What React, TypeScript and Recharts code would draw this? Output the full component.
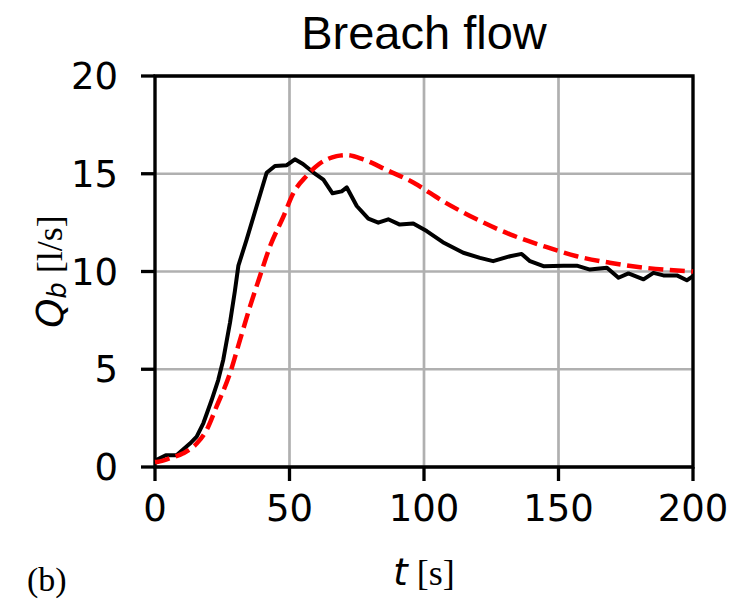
import { LineChart, Line, XAxis, YAxis, CartesianGrid, ReferenceArea, Label } from 'recharts'

// measured breach flow (black)
const tMeasured = [0, 1, 4, 8, 13, 15.5, 18, 21, 23.5, 25.4, 27.9, 29.7, 31, 34, 37.8, 41.5, 44.6, 49, 52, 55, 58.9, 62.6, 66, 69.4, 71.3, 75, 79.3, 83, 86.7, 91, 96, 101, 107, 114.6, 120.8, 125.7, 132, 136.3, 139.4, 144.4, 151.8, 156.8, 161.7, 168, 172.3, 176, 181.6, 185.3, 189, 194, 197.7, 200]
const qMeasured = [0.3, 0.4, 0.6, 0.6, 1.2, 1.55, 2.25, 3.4, 4.45, 5.5, 7.4, 9.0, 10.3, 11.6, 13.35, 15.05, 15.4, 15.44, 15.74, 15.5, 15.06, 14.7, 14.0, 14.1, 14.3, 13.35, 12.7, 12.5, 12.67, 12.4, 12.46, 12.07, 11.5, 10.96, 10.7, 10.53, 10.78, 10.9, 10.53, 10.27, 10.3, 10.3, 10.1, 10.19, 9.68, 9.9, 9.6, 9.93, 9.8, 9.8, 9.55, 9.76]

// model (red dashed)
const tModel = [0, 1.2, 5.6, 10.5, 15.5, 19.2, 22.9, 27.9, 31.6, 35.3, 39, 42.8, 47.7, 51.4, 56.4, 61, 67.5, 71.2, 77.4, 86, 96, 107, 119.6, 132, 144.4, 156.8, 169, 181.6, 200]
const qModel = [0.25, 0.27, 0.45, 0.7, 1.2, 1.9, 3.1, 4.8, 6.5, 8.2, 9.76, 11.3, 12.8, 14.0, 14.9, 15.5, 15.9, 15.96, 15.74, 15.2, 14.55, 13.6, 12.67, 11.9, 11.3, 10.78, 10.45, 10.2, 10.0]

const xTicks = [0, 50, 100, 150, 200]
const yTicks = [0, 5, 10, 15, 20]

const measuredData = tMeasured.map((t, i) => ({ t, q: qMeasured[i] }))
const modelData = tModel.map((t, i) => ({ t, q: qModel[i] }))

const tickFont = { fontFamily: 'DejaVu Sans', fontSize: 37, fill: '#000' }

function XTick(props: any) {
  const { x, y, payload } = props
  return (
    <text x={x} y={y} dy={40} textAnchor="middle" {...tickFont}>
      {payload.value}
    </text>
  )
}

function YTick(props: any) {
  const { x, y, payload } = props
  return (
    <text x={x} y={y} dy={13} textAnchor="end" {...tickFont}>
      {payload.value}
    </text>
  )
}

function YLabel(props: any) {
  const { viewBox } = props
  const cy = viewBox.y + viewBox.height / 2
  const cx = 50
  return (
    <text x={cx} y={cy} transform={`rotate(-90 ${cx} ${cy})`} textAnchor="middle" dominantBaseline="central">
      <tspan fontFamily="DejaVu Sans" fontStyle="italic" fontSize={37}>Q</tspan>
      <tspan fontFamily="DejaVu Sans" fontStyle="italic" fontSize={26} dy={7}>b</tspan>
      <tspan fontFamily="Liberation Serif" fontSize={36} dy={-7}> [l/s]</tspan>
    </text>
  )
}

function XLabel(props: any) {
  const { viewBox } = props
  const cx = viewBox.x + viewBox.width / 2
  return (
    <text x={cx} y={585} textAnchor="middle">
      <tspan fontFamily="DejaVu Sans" fontStyle="italic" fontSize={37}>t</tspan>
      <tspan fontFamily="Liberation Serif" fontSize={36}> [s]</tspan>
    </text>
  )
}

export default function App() {
  return (
    <div style={{ position: 'absolute', left: 0, top: 0, width: 748, height: 603, background: '#fff' }}>
      <div
        style={{
          position: 'absolute', left: 155, width: 538, top: 8, textAlign: 'center',
          fontFamily: 'Liberation Sans', fontSize: 47, lineHeight: '50px', color: '#000',
        }}
      >
        Breach flow
      </div>
      <div
        style={{
          position: 'absolute', left: 27, top: 562, fontFamily: 'Liberation Serif',
          fontSize: 34, lineHeight: '36px', color: '#000',
        }}
      >
        (b)
      </div>
      <LineChart width={748} height={603} margin={{ top: 76, right: 55, left: 0, bottom: 0 }}>
        <CartesianGrid stroke="#b0b0b0" strokeWidth={2.7} />
        <XAxis
          dataKey="t"
          type="number"
          domain={[0, 200]}
          ticks={xTicks}
          height={136}
          allowDuplicatedCategory={false}
          axisLine={false}
          tickSize={14}
          tickMargin={0}
          tickLine={{ stroke: '#000', strokeWidth: 3.3 }}
          tick={<XTick />}
        >
          <Label content={<XLabel />} />
        </XAxis>
        <YAxis
          type="number"
          domain={[0, 20]}
          ticks={yTicks}
          width={155}
          axisLine={false}
          tickSize={14}
          tickMargin={23}
          tickLine={{ stroke: '#000', strokeWidth: 3.3 }}
          tick={<YTick />}
        >
          <Label content={<YLabel />} />
        </YAxis>
        <Line
          data={measuredData}
          dataKey="q"
          type="linear"
          stroke="#000"
          strokeWidth={4}
          strokeLinejoin="round"
          dot={false}
          isAnimationActive={false}
        />
        <Line
          data={modelData}
          dataKey="q"
          type="monotone"
          stroke="#ff0000"
          strokeWidth={4.5}
          strokeDasharray="15 6.5"
          dot={false}
          isAnimationActive={false}
        />
        <ReferenceArea x1={0} x2={200} y1={0} y2={20} fill="none" stroke="#000" strokeWidth={3.3} ifOverflow="visible" />
      </LineChart>
    </div>
  )
}
